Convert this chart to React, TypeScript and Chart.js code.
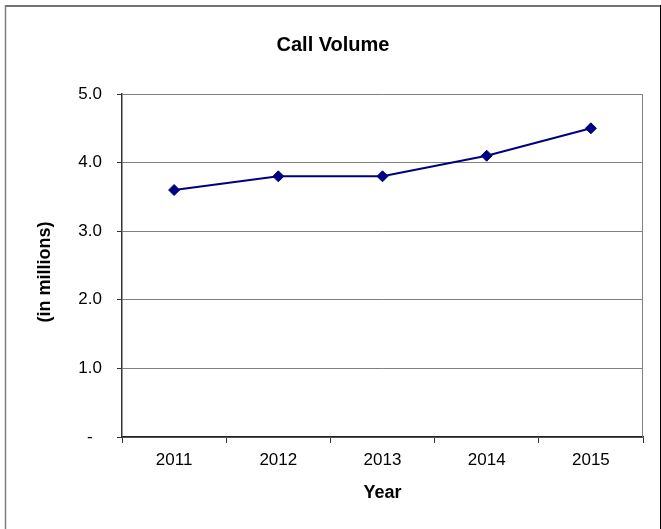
import React, { useEffect, useRef } from "react";
import { Chart, registerables } from "chart.js";

Chart.register(...registerables);

const years = ["2011", "2012", "2013", "2014", "2015"];
const callVolume = [3.6, 3.8, 3.8, 4.1, 4.5];
const yMin = 0;
const yMax = 5;
const yStep = 1;
const chartTitle = "Call Volume";
const xTitle = "Year";
const yTitle = "(in millions)";

const FONT = '"Liberation Sans", Arial, sans-serif';

const decor = {
  id: "decor",
  beforeDraw(chart: any) {
    const ctx = chart.ctx;
    ctx.save();
    ctx.fillStyle = "#ffffff";
    ctx.fillRect(0, 0, chart.width, chart.height);
    ctx.restore();
  },
  beforeDatasetsDraw(chart: any) {
    const ctx = chart.ctx;
    const a = chart.chartArea;
    ctx.save();
    ctx.strokeStyle = "#808080";
    ctx.lineWidth = 1;
    ctx.beginPath();
    ctx.moveTo(Math.round(a.right) - 0.5, a.top);
    ctx.lineTo(Math.round(a.right) - 0.5, a.bottom);
    ctx.stroke();
    ctx.restore();
  },
  afterDraw(chart: any) {
    const ctx = chart.ctx;
    const a = chart.chartArea;
    ctx.save();
    // outer frame
    ctx.lineWidth = 1.5;
    ctx.strokeStyle = "#444444";
    ctx.beginPath();
    ctx.moveTo(5, 6);
    ctx.lineTo(661, 6);
    ctx.stroke();
    ctx.strokeStyle = "#808080";
    ctx.beginPath();
    ctx.moveTo(5.5, 5);
    ctx.lineTo(5.5, 529);
    ctx.stroke();
    ctx.strokeStyle = "#000000";
    ctx.lineWidth = 1;
    ctx.beginPath();
    ctx.moveTo(660.5, 5);
    ctx.lineTo(660.5, 529);
    ctx.stroke();

    // titles
    ctx.fillStyle = "#000000";
    ctx.textAlign = "center";
    ctx.textBaseline = "middle";
    ctx.font = "bold 20px " + FONT;
    ctx.fillText(chartTitle, 333, 45);
    ctx.font = "bold 18px " + FONT;
    ctx.fillText(xTitle, (a.left + a.right) / 2, 493);
    ctx.translate(45, 272);
    ctx.rotate(-Math.PI / 2);
    ctx.fillText(yTitle, 0, 0);
    ctx.restore();
  },
};

export default function App() {
  const ref = useRef<HTMLCanvasElement | null>(null);

  useEffect(() => {
    document.body.style.margin = "0";
    const canvas = ref.current;
    if (!canvas) return;
    const chart = new Chart(canvas, {
      type: "line",
      data: {
        labels: years,
        datasets: [
          {
            data: callVolume,
            borderColor: "#000080",
            backgroundColor: "#000080",
            borderWidth: 2,
            tension: 0,
            pointStyle: "rectRot",
            pointRadius: 5.5,
            pointBorderWidth: 1,
            pointBackgroundColor: "#000080",
            pointBorderColor: "#000080",
            fill: false,
          },
        ],
      },
      options: {
        animation: false,
        responsive: false,
        devicePixelRatio: 1,
        layout: { padding: { left: 0, top: 94, right: 18, bottom: 52 } },
        plugins: {
          legend: { display: false },
          title: { display: false },
          tooltip: { enabled: false },
        },
        scales: {
          x: {
            type: "category",
            offset: true,
            afterFit: (s: any) => {
              s.height = 40;
            },
            grid: {
              offset: true,
              drawOnChartArea: false,
              drawTicks: true,
              tickLength: 6,
              tickColor: "#333333",
            },
            border: { display: true, color: "#222222", width: 1.5 },
            ticks: {
              color: "#000000",
              font: { family: FONT, size: 17 },
              padding: 7,
              maxRotation: 0,
            },
          },
          y: {
            min: yMin,
            max: yMax,
            afterFit: (s: any) => {
              s.width = 122;
            },
            grid: {
              color: "#808080",
              lineWidth: 1,
              drawTicks: true,
              tickLength: 5,
              tickColor: "#333333",
            },
            border: { display: true, color: "#333333", width: 1.5 },
            ticks: {
              stepSize: yStep,
              color: "#000000",
              font: { family: FONT, size: 17 },
              padding: 15,
              callback: (v: any) => (Number(v) === 0 ? "-  " : Number(v).toFixed(1)),
            },
          },
        },
      },
      plugins: [decor],
    });
    return () => chart.destroy();
  }, []);

  return (
    <div style={{ position: "fixed", left: 0, top: 0, width: 661, height: 529 }}>
      <canvas ref={ref} width={661} height={529} style={{ display: "block" }} />
    </div>
  );
}
